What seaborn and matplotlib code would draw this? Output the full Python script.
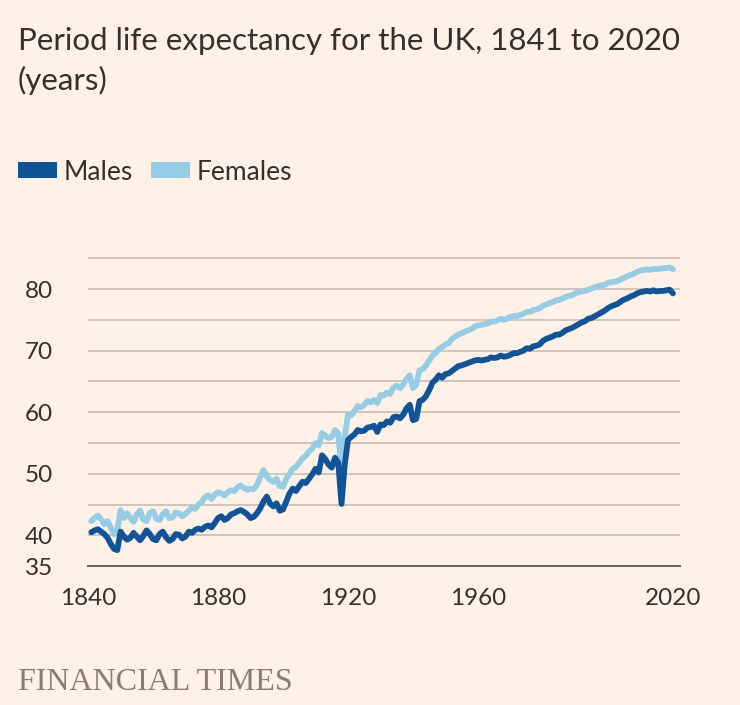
import numpy as np
import pandas as pd
import matplotlib.pyplot as plt
import seaborn as sns
from matplotlib.patches import Patch

# =========================
# 1. DATA
# =========================
years = list(range(1841, 2021))

males = [
    40.5, 40.8, 41.0, 40.6, 40.2, 39.6, 38.6, 37.8, 37.6, 40.6,  # 1841-1850
    39.8, 39.3, 39.6, 40.4, 39.8, 39.2, 39.9, 40.8, 40.2, 39.4,  # 1851-1860
    39.2, 40.2, 40.6, 39.7, 39.1, 39.4, 40.2, 40.1, 39.5, 39.8,  # 1861-1870
    40.6, 40.4, 40.9, 41.1, 40.9, 41.4, 41.6, 41.3, 42.0, 42.8,  # 1871-1880
    43.1, 42.5, 42.8, 43.4, 43.6, 43.9, 44.1, 43.8, 43.4, 42.8,  # 1881-1890
    43.0, 43.6, 44.4, 45.5, 46.3, 45.2, 44.7, 45.2, 44.0, 44.2,  # 1891-1900
    45.5, 46.8, 47.6, 47.2, 48.0, 48.7, 48.5, 49.2, 49.9, 50.8,  # 1901-1910
    50.2, 53.0, 52.4, 51.5, 51.0, 52.6, 51.8, 45.1, 51.5, 55.5,  # 1911-1920
    56.0, 56.4, 57.1, 56.9, 57.0, 57.5, 57.6, 57.8, 56.8, 58.0,  # 1921-1930
    57.9, 58.5, 58.3, 59.2, 59.3, 59.0, 59.6, 60.6, 61.2, 58.7,  # 1931-1940
    58.9, 61.8, 62.0, 62.6, 63.6, 64.8, 65.3, 66.0, 65.6, 66.2,  # 1941-1950
    66.3, 66.7, 67.1, 67.5, 67.6, 67.8, 68.0, 68.2, 68.4, 68.5,  # 1951-1960
    68.4, 68.5, 68.6, 68.9, 68.8, 68.9, 69.2, 69.0, 69.1, 69.3,  # 1961-1970
    69.6, 69.6, 69.8, 70.0, 70.4, 70.3, 70.7, 70.8, 71.0, 71.6,  # 1971-1980
    71.9, 72.1, 72.3, 72.6, 72.6, 72.9, 73.3, 73.5, 73.7, 74.0,  # 1981-1990
    74.3, 74.6, 74.8, 75.2, 75.3, 75.6, 75.9, 76.2, 76.5, 76.9,  # 1991-2000
    77.2, 77.4, 77.6, 78.0, 78.3, 78.5, 78.8, 79.0, 79.3, 79.5,  # 2001-2010
    79.6, 79.7, 79.6, 79.8, 79.6, 79.7, 79.7, 79.8, 79.9, 79.3,  # 2011-2020
]

females = [
    42.3, 42.8, 43.2, 42.6, 41.8, 42.3, 41.2, 40.2, 40.8, 44.1,  # 1841-1850
    42.8, 43.6, 42.9, 42.2, 43.4, 44.0, 42.6, 42.3, 43.6, 43.9,  # 1851-1860
    42.7, 42.5, 43.4, 43.9, 42.8, 42.9, 43.7, 43.6, 43.1, 43.5,  # 1861-1870
    44.0, 44.5, 44.3, 45.0, 45.4, 46.2, 46.5, 45.9, 46.6, 47.0,  # 1871-1880
    46.8, 46.5, 47.0, 47.3, 47.2, 47.8, 48.1, 47.7, 47.4, 47.6,  # 1881-1890
    47.5, 48.2, 49.5, 50.6, 49.6, 49.0, 48.7, 49.2, 48.0, 47.9,  # 1891-1900
    49.2, 50.0, 50.8, 51.1, 51.8, 52.5, 52.9, 53.6, 54.1, 55.0,  # 1901-1910
    54.6, 56.6, 56.2, 55.8, 56.0, 57.1, 56.5, 50.5, 56.0, 59.6,  # 1911-1920
    59.5, 60.2, 61.0, 60.8, 61.2, 61.8, 61.6, 62.0, 61.5, 62.8,  # 1921-1930
    62.7, 63.2, 63.0, 64.0, 64.3, 63.9, 64.5, 65.4, 66.0, 63.9,  # 1931-1940
    64.5, 66.8, 67.0, 67.6, 68.4, 69.2, 69.6, 70.3, 70.6, 71.0,  # 1941-1950
    71.2, 71.9, 72.3, 72.6, 72.8, 73.1, 73.3, 73.5, 73.9, 74.1,  # 1951-1960
    74.2, 74.3, 74.4, 74.7, 74.7, 74.9, 75.2, 75.0, 75.2, 75.5,  # 1961-1970
    75.6, 75.6, 75.8, 76.0, 76.3, 76.3, 76.6, 76.7, 76.9, 77.3,  # 1971-1980
    77.5, 77.7, 77.9, 78.2, 78.2, 78.5, 78.7, 78.9, 79.0, 79.3,  # 1981-1990
    79.5, 79.6, 79.7, 79.9, 80.1, 80.3, 80.5, 80.6, 80.7, 81.0,  # 1991-2000
    81.1, 81.2, 81.3, 81.6, 81.8, 82.1, 82.3, 82.5, 82.8, 83.0,  # 2001-2010
    83.1, 83.2, 83.1, 83.3, 83.2, 83.3, 83.4, 83.4, 83.5, 83.2,  # 2011-2020
]

x_ticks = [1840, 1860, 1880, 1900, 1920, 1940, 1960, 1980, 2000, 2020]
x_labels = ["1840", "", "1880", "", "1920", "", "1960", "", "", "2020"]
y_ticks = [35, 40, 45, 50, 55, 60, 65, 70, 75, 80, 85]
y_labels = ["35", "40", "", "50", "", "60", "", "70", "", "80", ""]

df = pd.DataFrame({"Year": years, "Males": males, "Females": females})

# =========================
# 2. STYLE
# =========================
BG = "#fff1e5"
DARK = "#0f5499"
LIGHT = "#96cde6"
TEXT = "#33302e"
GRID = "#d0c5b9"

sns.set_style("white")
plt.rcParams["font.family"] = ["Lato", "DejaVu Sans"]

fig = plt.figure(figsize=(7.4, 7.05), dpi=100, facecolor=BG)
ax = fig.add_axes([0.119, 0.197, 0.800, 0.448])
ax.set_facecolor(BG)

# females first so the male line sits on top
sns.lineplot(data=df, x="Year", y="Females", ax=ax, color=LIGHT, linewidth=4.2, zorder=3)
sns.lineplot(data=df, x="Year", y="Males", ax=ax, color=DARK, linewidth=4.2, zorder=4)

ax.set_xlim(1840, 2022.2)
ax.set_ylim(35, 86.3)
ax.set_xticks(x_ticks, x_labels)
ax.set_yticks(y_ticks, y_labels)
ax.set_xlabel("")
ax.set_ylabel("")

ax.grid(axis="y", color=GRID, linewidth=1.4, zorder=0)
ax.grid(axis="x", visible=False)
for side in ["top", "right", "left"]:
    ax.spines[side].set_visible(False)
ax.spines["bottom"].set_color("#66605c")
ax.spines["bottom"].set_linewidth(1.4)
ax.spines["bottom"].set_zorder(5)

ax.tick_params(axis="x", length=10, width=1.4, color="#66605c", pad=6,
               labelsize=17.5, labelcolor=TEXT)
ax.tick_params(axis="y", length=0, pad=25, labelsize=17.5, labelcolor=TEXT)

# =========================
# 3. TEXT + LEGEND
# =========================
fig.text(0.024, 0.962, "Period life expectancy for the UK, 1841 to 2020\n(years)",
         fontsize=22.5, color=TEXT, va="top", ha="left", linespacing=1.47)

handles = [Patch(facecolor=DARK, edgecolor="none", label="Males"),
           Patch(facecolor=LIGHT, edgecolor="none", label="Females")]
fig.legend(handles=handles, loc="center left", bbox_to_anchor=(0.024, 0.756),
           ncol=2, frameon=False, fontsize=19, handlelength=1.5, handleheight=0.55,
           handletextpad=0.23, columnspacing=0.68, borderpad=0, borderaxespad=0,
           labelcolor=TEXT)

fig.text(0.024, 0.012, "FINANCIAL TIMES", fontsize=23, color="#857d76",
         family=["Liberation Serif", "DejaVu Serif"], va="bottom", ha="left")

plt.savefig("out.png", dpi=100, facecolor=BG)
